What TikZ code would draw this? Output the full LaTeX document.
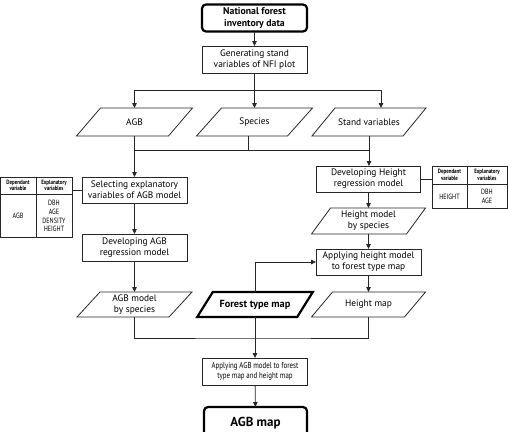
\documentclass[tikz,border=0pt]{standalone}
\usepackage{fontspec}
\setmainfont{PT Sans}
\newfontfamily\condfont[FakeStretch=0.8]{PT Sans}
\usetikzlibrary{arrows.meta,calc}
\newcommand\pgram[3][]{\draw[line join=miter,#1] ([xshift=#3]#2.north west) -- ([xshift=#3]#2.north east) -- ([xshift=-#3]#2.south east) -- ([xshift=-#3]#2.south west) -- cycle;}
\begin{document}
\begin{tikzpicture}[x=1pt,y=-1pt,
  line width=0.8pt, draw=black!85,
  box/.style={draw=black!85, line width=0.8pt, align=center, inner sep=0pt, outer sep=0pt, font=\fontsize{9.4}{11}\selectfont},
  para/.style={align=center, inner sep=0pt, outer sep=0pt, font=\fontsize{9.4}{11}\selectfont},
  term/.style={draw=black, line width=2.2pt, rounded corners=4pt, align=center, inner sep=0pt, outer sep=0pt},
  tbl/.style={draw=black!85, line width=0.7pt, inner sep=0pt, outer sep=0pt},
  tbh/.style={align=center, inner sep=0pt, font=\condfont\bfseries\fontsize{6.2}{6.4}\selectfont},
  tbb/.style={align=center, inner sep=0pt, font=\condfont\fontsize{7.6}{8.9}\selectfont},
  arr/.style={-{Triangle[length=5pt,width=4.5pt]}}
]
\useasboundingbox (0,0) rectangle (508,431);
% nodes
\node[term, minimum width=105, minimum height=27, font=\bfseries\fontsize{9.8}{11.2}\selectfont] (nfi) at (254.5,18) {National forest\\inventory data};
\node[box, minimum width=105, minimum height=27] (gen) at (254.5,59.5) {Generating stand\\variables of NFI plot};
\node[para, minimum width=92, minimum height=28] (agb) at (134.5,122) {AGB};
\node[para, minimum width=91, minimum height=28] (spc) at (254.5,122) {Species};
\node[para, minimum width=91, minimum height=28] (stv) at (369,122) {Stand variables};
\node[box, minimum width=105, minimum height=26] (sel) at (134.5,190) {Selecting explanatory\\variables of AGB model};
\node[box, minimum width=105, minimum height=27] (dagb) at (134.5,247.5) {Developing AGB\\regression model};
\node[box, minimum width=104, minimum height=26] (hdev) at (368.5,179) {Developing Height\\regression model};
\node[para, minimum width=95, minimum height=26] (hmod) at (368.5,221) {Height model\\by species};
\node[box, minimum width=105, minimum height=26] (aph) at (368.5,262) {Applying height model\\to forest type map};
\node[para, minimum width=92, minimum height=25] (agbm) at (134.5,304.5) {AGB model\\by species};
\node[para, minimum width=100, minimum height=25, font=\bfseries\fontsize{10.3}{12}\selectfont] (ftm) at (255,304.5) {Forest type map};
\node[para, minimum width=93, minimum height=25] (hmap) at (368.5,304.5) {Height map};
\node[box, minimum width=105, minimum height=27, font=\condfont\fontsize{8.6}{10.5}\selectfont] (appagb) at (255,371.5) {Applying AGB model to forest\\type map and height map};
\node[term, minimum width=103, minimum height=32, font=\bfseries\fontsize{13}{15}\selectfont] (agbmap) at (255.5,423) {\raisebox{3pt}{AGB map}};
% parallelograms
\pgram{agb}{12pt}
\pgram{spc}{12.5pt}
\pgram{stv}{11.5pt}
\pgram{hmod}{9.5pt}
\pgram{agbm}{11.5pt}
\pgram[line width=2.2pt, draw=black]{ftm}{7.8pt}
\pgram{hmap}{10.5pt}
% tables
\node[tbl, minimum width=71.5, minimum height=60] (tl) at (36.25,207) {};
\draw[line width=0.7pt] (tl.north) -- (tl.south);
\draw[line width=0.7pt] ([yshift=-17pt]tl.north west) -- ([yshift=-17pt]tl.north east);
\node[tbh] (tlh1) at (18,185.5) {Dependant\\variable};
\node[tbh] (tlh2) at (54,185.5) {Explanatory\\variables};
\node[tbb] (tlb1) at (18,216) {AGB};
\node[tbb] (tlb2) at (54,216) {DBH\\AGE\\DENSITY\\HEIGHT};
\node[tbl, minimum width=75, minimum height=42] (tr) at (469.5,187) {};
\draw[line width=0.7pt] ([xshift=-2.5pt]tr.north) -- ([xshift=-2.5pt]tr.south);
\draw[line width=0.7pt] ([yshift=-18pt]tr.north west) -- ([yshift=-18pt]tr.north east);
\node[tbh] (trh1) at (449.5,175) {Dependant\\variable};
\node[tbh] (trh2) at (487,175) {Explanatory\\variables};
\node[tbb] (trb1) at (449.5,196.5) {HEIGHT};
\node[tbb] (trb2) at (487,196.5) {DBH\\AGE};
% connectors
\coordinate (j1) at (254.5,90);
\coordinate (j2) at (254.5,150);
\coordinate (j3) at (255,338);
\draw[arr] (nfi) -- (gen);
\draw (gen.south) -- (j1);
\draw[arr] (j1) -| (agb.north);
\draw[arr] (j1) -- (spc.north);
\draw[arr] (j1) -| ([xshift=12pt]stv.north);
\draw[arr] (agb.south) -- (sel.north);
\draw[arr] (stv.south) -- (stv.south |- hdev.north);
\draw (agb.south |- j2) -- (stv.south |- j2);
\draw ([xshift=-6pt]spc.south) -- ([xshift=-6pt]spc.south |- j2);
\draw[arr] (sel) -- (dagb);
\draw[arr] (dagb) -- (agbm);
\draw[arr] (hdev) -- (hmod);
\draw[arr] (hmod) -- (aph);
\draw[arr] (aph) -- (hmap);
\draw[arr] (ftm.north) |- (aph.west);
\draw (agbm.south) |- (j3) -| (hmap.south);
\draw[arr] (ftm) -- (appagb);
\draw[arr] (appagb) -- (agbmap);
\draw (tl.east |- sel.west) -- (sel.west);
\draw (hdev.east) -- (hdev.east -| tr.west);
\end{tikzpicture}
\end{document}
